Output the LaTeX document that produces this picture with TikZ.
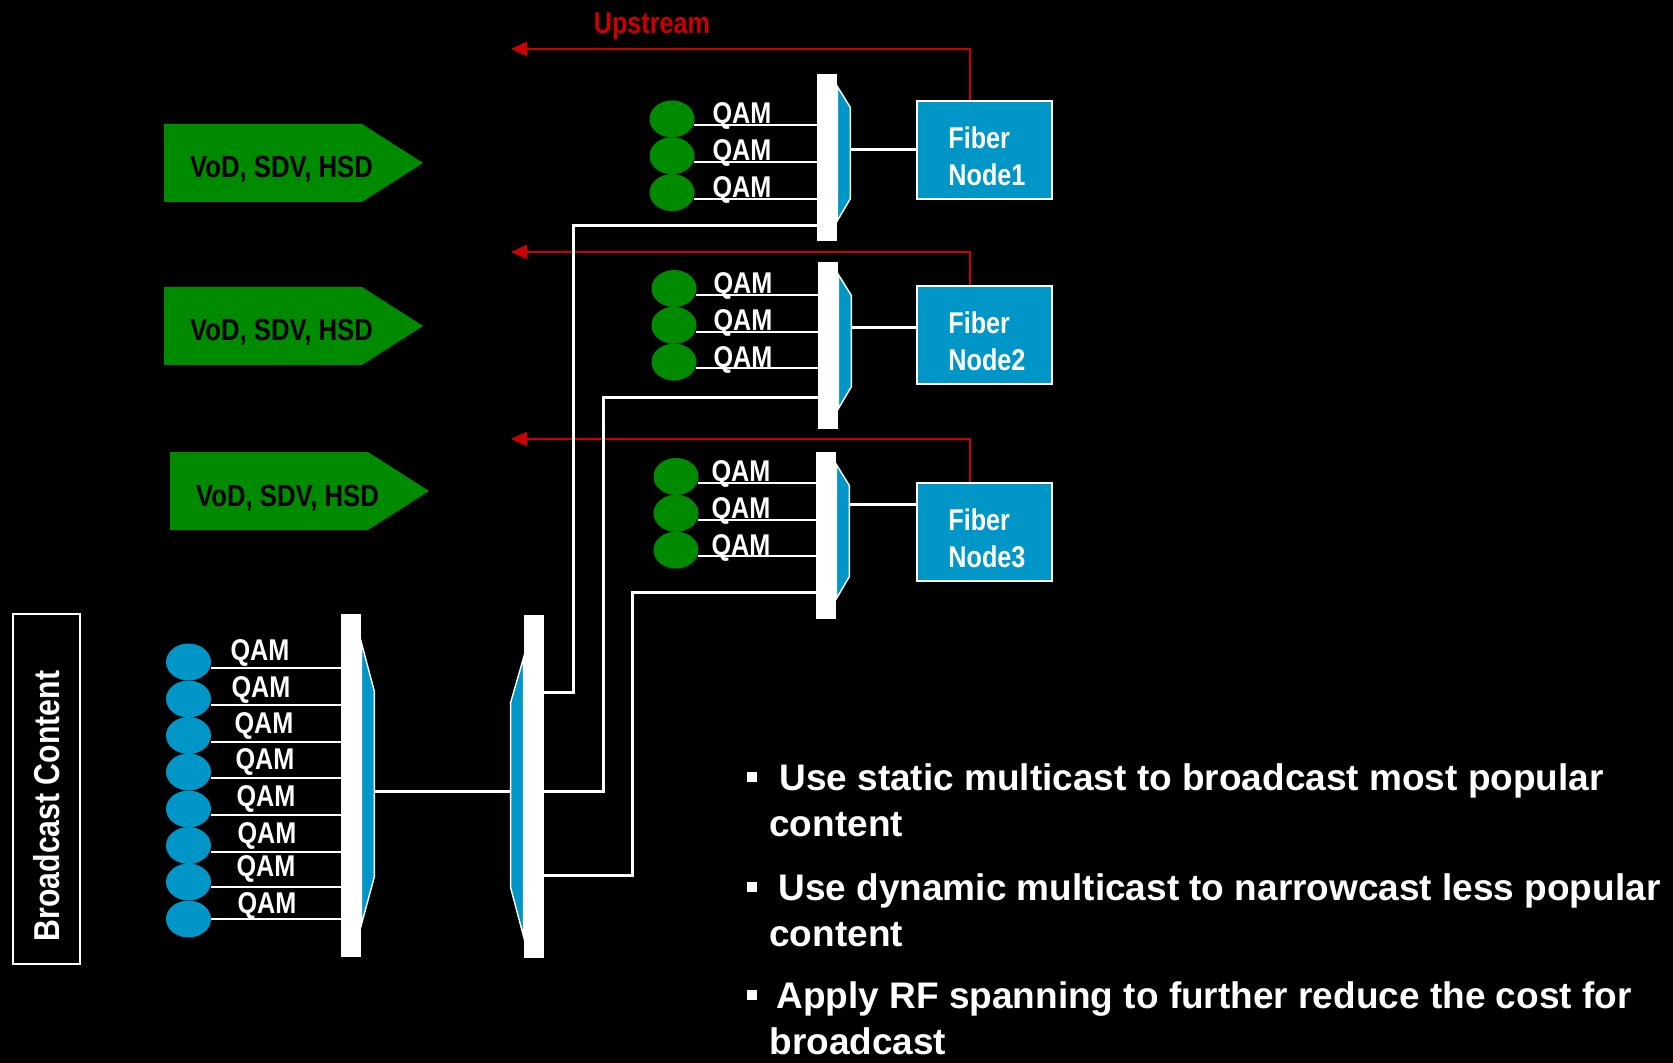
\documentclass[tikz,border=0pt]{standalone}
\usepackage{fontspec}
\setmainfont{Liberation Sans}
\newfontfamily\narrowfont{Liberation Sans}[FakeStretch=0.84]
\usetikzlibrary{shapes.geometric,arrows.meta,calc}

\definecolor{qamblue}{RGB}{0,150,199}
\definecolor{vodgreen}{RGB}{0,138,0}
\definecolor{upred}{RGB}{204,0,0}

\begin{document}
\begin{tikzpicture}[x=0.5pt, y=-0.5pt,
    bar/.style={fill=white, inner sep=0pt, minimum width=10pt},
    qam/.style={ellipse, inner sep=0pt, minimum width=22.5pt, minimum height=18.5pt},
    qamtext/.style={text=white, inner sep=0pt, anchor=base, font=\narrowfont\bfseries\fontsize{15}{18}\selectfont},
    trap/.style={fill=qamblue, draw=white, line width=0.7pt},
    wire/.style={draw=white, line width=1.5pt},
    thinwire/.style={draw=white, line width=1pt},
    fiber/.style={fill=qamblue, draw=white, line width=1pt, minimum width=67.5pt, minimum height=49pt, inner sep=0pt},
    fibertext/.style={text=white, align=left, inner sep=0pt, anchor=north west, font=\narrowfont\bfseries\fontsize{15}{18.5}\selectfont},
    upline/.style={draw=upred, line width=1pt, -{Triangle[length=8pt,width=7pt]}},
    uptext/.style={text=upred, inner sep=0pt, anchor=base, font=\narrowfont\bfseries\fontsize{15}{17}\selectfont},
    vodtext/.style={text=black, inner sep=0pt, anchor=base, font=\narrowfont\bfseries\fontsize{15.3}{18}\selectfont},
    bctext/.style={text=white, inner sep=0pt, anchor=base, rotate=90, font=\narrowfont\bfseries\fontsize{18}{22}\selectfont},
    bullettext/.style={text=white, inner sep=0pt, anchor=base west, font=\bfseries\fontsize{18.5}{22}\selectfont},
    bulletdot/.style={fill=white, inner sep=0pt, minimum size=5pt}
  ]
  % background and page size
  \fill[black] (0,0) rectangle (1673,1063);
  \useasboundingbox (0,0) rectangle (1673,1063);

  % service arrows
  \foreach \a/\ax/\ay in {1/164/124, 2/164/287, 3/170/452}{
    \fill[vodgreen] (\ax,\ay) -- ++(198,0) -- ++(61,39) -- ++(-61,39) -- ++(-198,0) -- cycle;
    \node[vodtext] (vod\a) at (\ax+117.5,\ay+54) {VoD, SDV, HSD};
  }

  % fiber nodes and upstream
  \node[uptext] (upstream) at (652,34) {Upstream};
  \foreach \g/\ft/\uy in {1/101/49, 2/286/252, 3/483/439}{
    \node[fiber] (fn\g) at (984.5,\ft+49) {};
    \node[fibertext] (ftx\g) at (948,\ft+25) {Fiber\\Node\g};
    \coordinate (u\g) at (511,\uy);
    \draw[upline] ([xshift=-7.5pt]fn\g.north) |- (u\g);
  }

  % broadcast side
  \node[draw=white, line width=1.2pt, minimum width=33.5pt, minimum height=175pt, inner sep=0pt] (bcbox) at (46.5,789) {};
  \node[bctext] (bct) at (59,806) {Broadcast Content};
  \node[bar, minimum height=171.5pt] (lbar) at (351,785.5) {};
  \node[bar, minimum height=171.5pt] (rbar) at (534,786.5) {};
  \path[trap] ($(lbar.north east)+(0,29)$) -- ($(lbar.north east)+(13,78)$) -- ($(lbar.north east)+(13,263)$) -- ($(lbar.north east)+(0,311)$) -- cycle;
  \path[trap] ($(rbar.north west)+(0,43)$) -- ($(rbar.north west)+(-13,88)$) -- ($(rbar.north west)+(-13,273)$) -- ($(rbar.north west)+(0,322)$) -- cycle;
  \coordinate (lout) at (374,791);
  \coordinate (rin) at (511,791);
  \draw[wire] (lout) -- (rin);
  \foreach \k/\cy/\ly/\tx/\ty in {1/662/668/260/660, 2/699/705/261/697, 3/735.5/742/264/733, 4/772/778/265/769,
      5/809/815/266/806, 6/845.5/852/267/843, 7/882/887/266/876, 8/919/919/267/913}{
    \node[qam, fill=qamblue] (c\k) at (188.5,\cy) {};
    \draw[thinwire] (c\k.east |- 0,\ly) -- (lbar.west |- 0,\ly);
    \node[qamtext] (lt\k) at (\tx,\ty) {QAM};
  }

  % narrowcast groups
  \foreach \g/\bx/\bt/\ex/\ey/\tx/\lk/\py/\ret/\vx in {
      1/827/74/672/119/742/150/692/226/573,
      2/828/262/674/288.5/743/328/791/398/603,
      3/826/452/676/476.5/741/504/875/592/632}{
    \node[bar, minimum height=83.5pt] (b\g) at (\bx,\bt+83.5) {};
    \path[trap] ($(b\g.north east)+(0,13)$) -- ($(b\g.north east)+(13,34)$) -- ($(b\g.north east)+(13,125)$) -- ($(b\g.north east)+(0,147)$) -- cycle;
    \foreach \k in {0,1,2}{
      \node[qam, fill=vodgreen] (q\g\k) at (\ex,\ey+36.8*\k) {};
      \draw[thinwire] (q\g\k.-16) -- (b\g.west |- q\g\k.-16);
      \node[qamtext] (t\g\k) at (\tx,\ey+5+36.8*\k) {QAM};
    }
    \coordinate (tr\g) at (\bx+23,\lk);
    \draw[wire] (tr\g) -- (fn\g.west |- tr\g);
    \draw[wire] (rbar.east |- 0,\py) -| (\vx,\ret) -- (b\g.west |- 0,\ret);
  }

  % bullet text
  \foreach \i/\yb/\xa/\la/\lb in {1/790/779/{Use static multicast to broadcast most popular}/content,
      2/900/778/{Use dynamic multicast to narrowcast less popular}/content,
      3/1008/776/{Apply RF spanning to further reduce the cost for}/broadcast}{
    \node[bulletdot] (dot\i) at (752,\yb-13) {};
    \node[bullettext] (line\i) at (\xa,\yb) {\la};
    \node[bullettext] (wrap\i) at (769,\yb+46) {\lb};
  }
\end{tikzpicture}
\end{document}
